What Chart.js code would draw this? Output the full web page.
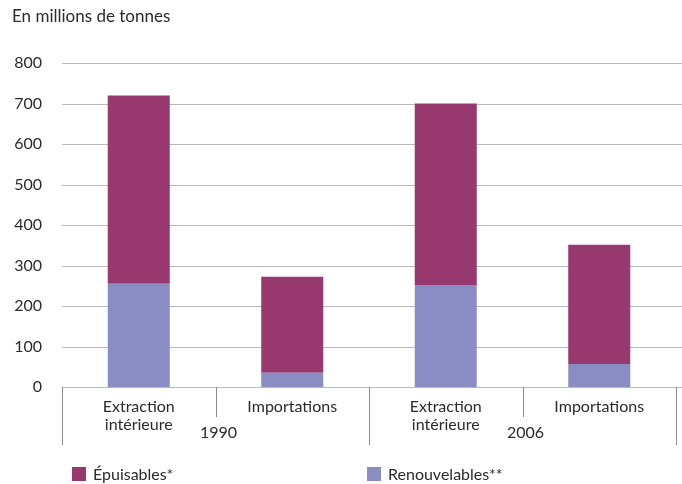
<!DOCTYPE html>
<html>
<head>
<meta charset="utf-8">
<script src="https://cdn.jsdelivr.net/npm/chart.js@4.4.1/dist/chart.umd.min.js"></script>
<style>
  html, body { margin: 0; padding: 0; background: #fff; }
  #wrap { width: 682px; height: 484px; position: relative; }
</style>
</head>
<body>
<div id="wrap"><canvas id="c" width="682" height="484"></canvas></div>
<script>
// Flux de matières (en millions de tonnes)
const categories = ["Extraction intérieure", "Importations", "Extraction intérieure", "Importations"];
const categoryLines = [["Extraction", "intérieure"], ["Importations"], ["Extraction", "intérieure"], ["Importations"]];
const years = ["1990", "2006"];
const epuisables = [465, 237, 448, 294];
const renouvelables = [255, 35, 252, 57];
const yTicks = [0, 100, 200, 300, 400, 500, 600, 700, 800];
const seriesNames = ["Épuisables*", "Renouvelables**"];

const FONT = "Lato, 'Open Sans', sans-serif";
const TEXT = "#2b2b2b";
const GRID = "#b9b9b9";
const COL_EPU = "#97386e";
const COL_REN = "#8a8dc4";

const decorations = {
  id: "decorations",
  beforeDatasetsDraw(chart) {
    const ctx = chart.ctx;
    const y = chart.scales.y;
    const area = chart.chartArea;
    ctx.save();
    ctx.strokeStyle = GRID;
    ctx.lineWidth = 1;
    yTicks.forEach(v => {
      const py = Math.round(y.getPixelForValue(v)) + 0.5;
      ctx.beginPath();
      ctx.moveTo(area.left, py);
      ctx.lineTo(chart.width, py);
      ctx.stroke();
    });
    ctx.restore();
  },
  afterDraw(chart) {
    const ctx = chart.ctx;
    const x = chart.scales.x;
    const area = chart.chartArea;
    const step = x.getPixelForValue(1) - x.getPixelForValue(0);
    ctx.save();
    // séparateurs de l'axe des catégories
    ctx.strokeStyle = "#8c8c8c";
    ctx.lineWidth = 1;
    for (let i = 0; i <= categories.length; i++) {
      const px = Math.round(x.getPixelForValue(i) - step / 2) + 0.5;
      const long = i % 2 === 0;
      ctx.beginPath();
      ctx.moveTo(px, area.bottom);
      ctx.lineTo(px, area.bottom + (long ? 58 : 30));
      ctx.stroke();
    }
    // libellés des catégories
    ctx.fillStyle = TEXT;
    ctx.font = "16px " + FONT;
    ctx.textAlign = "center";
    ctx.textBaseline = "middle";
    categoryLines.forEach((lines, i) => {
      const px = x.getPixelForValue(i);
      lines.forEach((t, j) => ctx.fillText(t, px, area.bottom + 20 + j * 18));
    });
    // années
    years.forEach((yr, g) => {
      const px = x.getPixelForValue(g * 2) + step / 2;
      ctx.fillText(yr, px + 3, area.bottom + 46);
    });
    // titre de l'axe
    ctx.textAlign = "left";
    ctx.font = "17px " + FONT;
    ctx.fillText("En millions de tonnes", 12, 17);
    // légende
    ctx.font = "16px " + FONT;
    const legend = [
      { label: seriesNames[0], color: COL_EPU, x: 72 },
      { label: seriesNames[1], color: COL_REN, x: 367 }
    ];
    legend.forEach(l => {
      ctx.fillStyle = l.color;
      ctx.fillRect(l.x, 467, 14, 14);
      ctx.fillStyle = TEXT;
      ctx.fillText(l.label, l.x + 21, 475);
    });
    ctx.restore();
  }
};

new Chart(document.getElementById("c"), {
  type: "bar",
  data: {
    labels: categories,
    datasets: [
      { label: seriesNames[1], data: renouvelables, backgroundColor: COL_REN },
      { label: seriesNames[0], data: epuisables, backgroundColor: COL_EPU }
    ]
  },
  options: {
    responsive: false,
    animation: false,
    devicePixelRatio: 1,
    layout: { padding: { top: 63, left: 0, right: 6, bottom: 0 } },
    datasets: { bar: { barPercentage: 0.404, categoryPercentage: 1, borderWidth: 0 } },
    plugins: { legend: { display: false }, tooltip: { enabled: false } },
    scales: {
      x: {
        stacked: true,
        grid: { display: false },
        border: { display: false },
        ticks: { display: false },
        afterFit(s) { s.height = 97; }
      },
      y: {
        stacked: true,
        min: 0,
        max: 800,
        afterBuildTicks(s) { s.ticks = yTicks.map(v => ({ value: v })); },
        grid: { display: false },
        border: { display: false },
        ticks: { color: TEXT, font: { family: FONT, size: 16 }, padding: 12 },
        afterFit(s) { s.width = 62; }
      }
    }
  },
  plugins: [decorations]
});
</script>
</body>
</html>
